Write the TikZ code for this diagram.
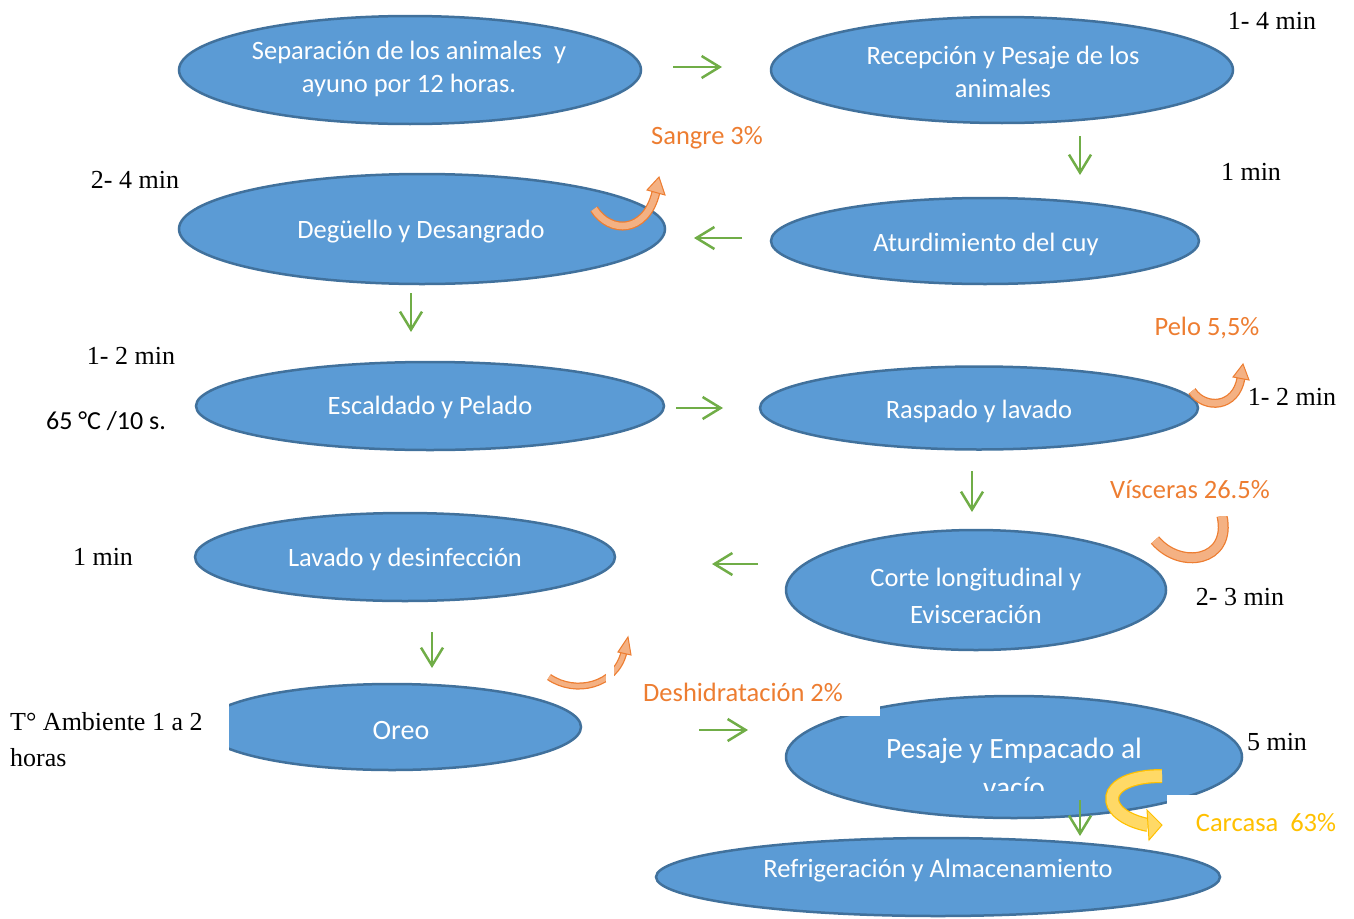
\documentclass[tikz,border=0pt]{standalone}
\usepackage{fontspec}
\setmainfont{Liberation Serif}
\newfontfamily\calibri{Carlito}
\usetikzlibrary{shapes.geometric,arrows.meta}
\definecolor{blueFill}{HTML}{5B9BD5}
\definecolor{blueEdge}{HTML}{41719C}
\definecolor{flowGreen}{HTML}{70AD47}
\definecolor{lossOrange}{HTML}{ED7D31}
\definecolor{lossFill}{HTML}{F4B183}
\definecolor{yieldGold}{HTML}{FFC000}
\definecolor{yieldFill}{HTML}{FFD966}
\begin{document}
\begin{tikzpicture}[x=1pt,y=-1pt,
  stage/.style={ellipse,draw=blueEdge,fill=blueFill,line width=2.5pt,inner sep=0pt},
  stagetext/.style={text=white,font=\calibri\fontsize{26.5}{33}\selectfont,align=center,inner sep=0pt},
  timetext/.style={font=\fontsize{26}{36}\selectfont,inner sep=0pt},
  losstext/.style={text=lossOrange,font=\calibri\fontsize{26.5}{33}\selectfont,inner sep=0pt},
  flow/.style={draw=flowGreen,line width=2.5pt,-{Straight Barb[length=18pt,width=22pt,line width=2.5pt]}},
  lossband/.style={line width=9pt,draw=lossOrange},
  lossinner/.style={line width=6.5pt,draw=lossFill},
  hidebox/.style={fill=white,draw=none}]
\useasboundingbox (0,0) rectangle (1354,918);

% process stages
\node[stage,minimum width=462pt,minimum height=108pt] (s1) at (410,70) {};
\node[stage,minimum width=462pt,minimum height=106pt] (s2) at (1002,70) {};
\node[stage,minimum width=486pt,minimum height=110pt] (s3) at (422,229) {};
\node[stage,minimum width=428pt,minimum height=86pt] (s4) at (985,241) {};
\node[stage,minimum width=468pt,minimum height=88pt] (s5) at (430,406) {};
\node[stage,minimum width=438pt,minimum height=83pt] (s6) at (979,408) {};
\node[stage,minimum width=420pt,minimum height=88pt] (s7) at (405,557) {};
\node[stage,minimum width=380pt,minimum height=120pt] (s8) at (976,590) {};
\node[stage,minimum width=378pt,minimum height=86pt] (s9) at (392,727) {};
\node[stage,minimum width=456pt,minimum height=122pt] (s10) at (1014,757) {};
\node[stage,minimum width=564pt,minimum height=78pt] (s11) at (938,877) {};

% blank patches lying over some stages
\fill[hidebox] (195,688) rectangle (229,770);
\fill[hidebox] (780,702) rectangle (880,716);
\fill[hidebox] (1167,795) rectangle (1205,822);

% stage texts
\node[stagetext] (t1) at (409,69) {Separación de los animales\ \ y\\ayuno por 12 horas.};
\node[stagetext] (t2) at (1003,72) {Recepción y Pesaje de los\\animales};
\node[stagetext] (t3) at (421,232) {Degüello y Desangrado};
\node[stagetext] (t4) at (986,244) {Aturdimiento del cuy};
\node[stagetext] (t5) at (430,407) {Escaldado y Pelado};
\node[stagetext] (t6) at (979,411) {Raspado y lavado};
\node[stagetext] (t7) at (405,559) {Lavado y desinfección};
\node[stagetext,font=\calibri\fontsize{26.5}{37}\selectfont] (t8) at (976,596) {Corte longitudinal y\\Evisceración};
\node[stagetext,font=\calibri\fontsize{28}{33}\selectfont] (t9) at (401,731) {Oreo};
\begin{scope}
  \clip (800,700) rectangle (1230,790);
  \node[stagetext,font=\calibri\fontsize{29.5}{39}\selectfont] (t10) at (1014,768) {Pesaje y Empacado al\\vacío};
\end{scope}
\node[stagetext] (t11) at (938,871) {Refrigeración y Almacenamiento};

% times and conditions
\node[timetext] (m1) at (1272,21) {1- 4 min};
\node[timetext] (m2) at (1251,172) {1 min};
\node[timetext] (m3) at (135,180) {2- 4 min};
\node[timetext] (m4) at (131,356) {1- 2 min};
\node[font=\calibri\fontsize{26}{32}\selectfont,inner sep=0pt] (m5) at (106,421) {65 °C /10 s.};
\node[timetext] (m6) at (1292,397) {1- 2 min};
\node[timetext] (m7) at (103,557) {1 min};
\node[timetext] (m8) at (1240,597) {2- 3 min};
\node[timetext,anchor=west,align=left] (m9) at (10,740) {T° Ambiente 1 a 2\\horas};
\node[timetext] (m10) at (1277,742) {5 min};

% losses and yield
\node[losstext] (l1) at (707,138) {Sangre 3\%};
\node[losstext] (l2) at (1207,328) {Pelo 5,5\%};
\node[losstext] (l3) at (1190,490) {Vísceras 26.5\%};
\node[losstext] (l4) at (743,692) {Deshidratación 2\%};
\node[losstext,text=yieldGold] (l5) at (1266,823) {Carcasa\ \ 63\%};

% curved loss arrows
\coordinate (b1s) at (594,209); \coordinate (b1e) at (656,192);
\draw[lossband] (b1s) .. controls (610,234) and (646,234) .. (b1e);
\draw[lossinner] (b1s) .. controls (610,234) and (646,234) .. (b1e);
\filldraw[fill=lossFill,draw=lossOrange,line width=1pt] (647,190) -- (659,177) -- (665,195) -- cycle;

\coordinate (b2s) at (1192,391); \coordinate (b2e) at (1241,378);
\draw[lossband] (b2s) .. controls (1205,410) and (1236,408) .. (b2e);
\draw[lossinner] (b2s) .. controls (1205,410) and (1236,408) .. (b2e);
\filldraw[fill=lossFill,draw=lossOrange,line width=1pt] (1233,377) -- (1243,364) -- (1249,380) -- cycle;

\coordinate (b3s) at (1155,540); \coordinate (b3e) at (1222,516);
\draw[lossband,line width=11pt] (b3s) .. controls (1180,570) and (1232,562) .. (b3e);
\draw[lossinner,line width=8.5pt] (b3s) .. controls (1180,570) and (1232,562) .. (b3e);
\fill[hidebox] (1205,503) rectangle (1240,516);

\coordinate (b4s) at (549,677); \coordinate (b4e) at (624,652);
\draw[lossband,line width=7pt] (b4s) .. controls (575,695) and (616,686) .. (b4e);
\draw[lossinner,line width=4.5pt] (b4s) .. controls (575,695) and (616,686) .. (b4e);
\filldraw[fill=lossFill,draw=lossOrange,line width=1pt] (618,652) -- (628,637) -- (631,655) -- cycle;
\fill[hidebox] (606,661) rectangle (614,682);

\coordinate (b5s) at (1162,776); \coordinate (b5e) at (1148,825);
\draw[line width=14pt,draw=yieldGold] (b5s) .. controls (1098,776) and (1098,815) .. (b5e);
\draw[line width=11.5pt,draw=yieldFill] (b5s) .. controls (1098,776) and (1098,815) .. (b5e);
\filldraw[fill=yieldFill,draw=yieldGold,line width=1pt] (1147,810) -- (1162,825) -- (1149,840) -- cycle;

% process flow arrows
\coordinate (f1a) at (673,67);   \coordinate (f1b) at (722,67);
\coordinate (f2a) at (1080,136); \coordinate (f2b) at (1080,175);
\coordinate (f3a) at (742,238);  \coordinate (f3b) at (694,238);
\coordinate (f4a) at (411,293);  \coordinate (f4b) at (411,332);
\coordinate (f5a) at (676,408);  \coordinate (f5b) at (723,408);
\coordinate (f6a) at (972,471);  \coordinate (f6b) at (972,512);
\coordinate (f7a) at (758,564);  \coordinate (f7b) at (712,564);
\coordinate (f8a) at (432,632);  \coordinate (f8b) at (432,668);
\coordinate (f9a) at (699,730);  \coordinate (f9b) at (748,730);
\coordinate (f10a) at (1080,800); \coordinate (f10b) at (1080,836);
\foreach \k in {1,...,10} { \draw[flow] (f\k a) -- (f\k b); }
\end{tikzpicture}
\end{document}
